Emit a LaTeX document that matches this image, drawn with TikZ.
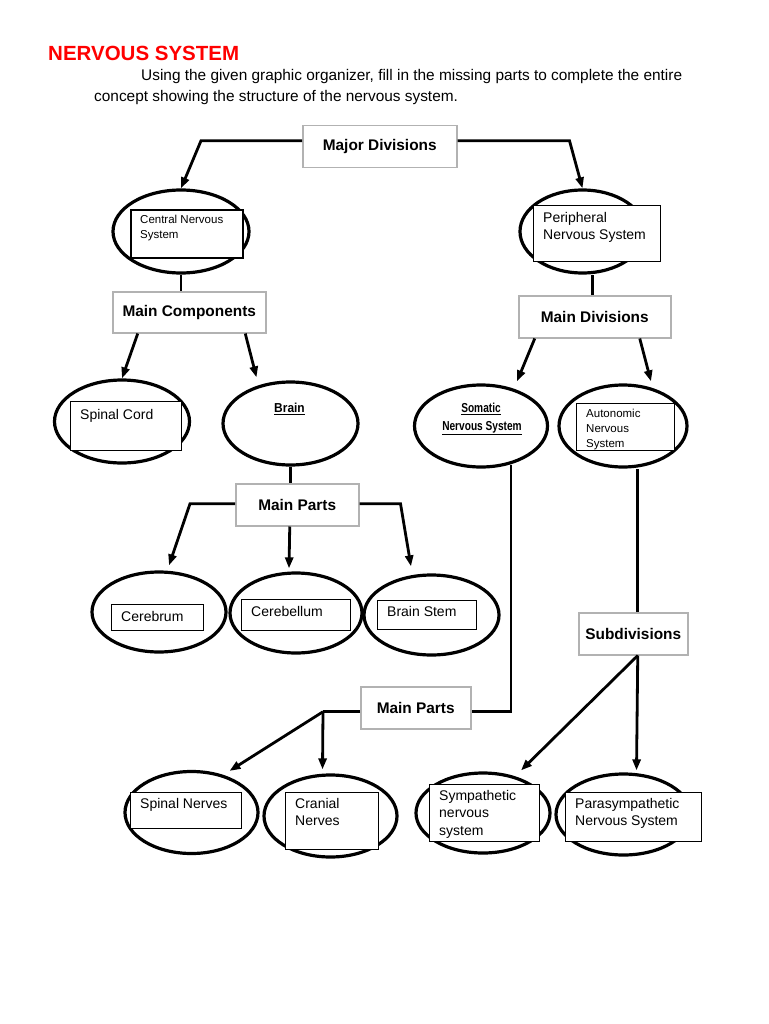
\documentclass[tikz,border=0pt]{standalone}
\usepackage{fontspec}
\setmainfont{Liberation Sans}
\usetikzlibrary{shapes.geometric,arrows.meta}
\begin{document}
\begin{tikzpicture}[x=1pt,y=-1pt,
  ell/.style={ellipse, draw, line width=3.2pt, inner sep=0pt},
  lbl/.style={rectangle, draw=gray!60, line width=1.5pt, fill=white, anchor=north west, inner sep=0pt,
    font=\fontsize{15.4}{18}\selectfont\bfseries},
  ansbox/.style={rectangle, draw, line width=0.9pt, fill=white, anchor=north west, inner sep=0pt},
  anstext/.style={anchor=north west, align=left, inner sep=0pt, font=\fontsize{14}{17.5}\selectfont},
  smalltext/.style={anchor=north west, align=left, inner sep=0pt, font=\fontsize{11.5}{14.8}\selectfont},
  undertext/.style={inner sep=0pt, font=\fontsize{13}{16}\selectfont\bfseries},
  conn/.style={line width=2.8pt, -{Triangle[width=8pt,length=11pt]}},
  link/.style={line width=2.8pt},
]
\useasboundingbox (0,0) rectangle (768,1024);

% title and instructions
\node[anchor=base west, inner sep=0pt, text=red, font=\fontsize{20.5}{24}\selectfont\bfseries] (title) at (48,61) {NERVOUS SYSTEM};
\node[anchor=base west, inner sep=0pt, font=\fontsize{15.4}{18}\selectfont] (intro1) at (141,81) {Using the given graphic organizer, fill in the missing parts to complete the entire};
\node[anchor=base west, inner sep=0pt, font=\fontsize{15.4}{18}\selectfont] (intro2) at (94,102) {concept showing the structure of the nervous system.};

% ellipses
\node[ell, minimum width=136pt, minimum height=83pt] (cns) at (181,231.5) {};
\node[ell, minimum width=125pt, minimum height=83pt] (pns) at (582.5,231.5) {};
\node[ell, minimum width=135pt, minimum height=83pt] (spc) at (122,421.5) {};
\node[ell, minimum width=135pt, minimum height=83pt] (brain) at (290.5,423.5) {};
\node[ell, minimum width=133pt, minimum height=82pt] (som) at (481,426) {};
\node[ell, minimum width=128pt, minimum height=82pt] (auto) at (623,426) {};
\node[ell, minimum width=134pt, minimum height=80pt] (cer) at (159,612) {};
\node[ell, minimum width=132pt, minimum height=80pt] (cbl) at (296,613) {};
\node[ell, minimum width=135pt, minimum height=80pt] (bst) at (431.5,615) {};
\node[ell, minimum width=133pt, minimum height=82pt] (spn) at (191.5,812.5) {};
\node[ell, minimum width=133pt, minimum height=82pt] (crn) at (330.5,816) {};
\node[ell, minimum width=134pt, minimum height=80pt] (sym) at (483,813) {};
\node[ell, minimum width=135pt, minimum height=81pt] (par) at (623.5,814.5) {};

% printed texts inside ellipses
\node[undertext] (braint) at (289.5,409) {\scalebox{0.92}[1]{\underline{Brain}}};
\node[undertext] (somt1) at (481,409) {\scalebox{0.78}[1]{\underline{Somatic}}};
\node[undertext] (somt2) at (482,428) {\scalebox{0.78}[1]{\underline{Nervous System}}};

% label boxes
\node[lbl, minimum width=154pt, minimum height=42pt] (major) at (302,125) {Major Divisions};
\node[lbl, minimum width=153pt, minimum height=41pt] (mc) at (112,291) {Main Components};
\node[lbl, minimum width=152pt, minimum height=42pt] (mdiv) at (518,295) {Main Divisions};
\node[lbl, minimum width=123pt, minimum height=42pt] (mp1) at (235,483) {Main Parts};
\node[lbl, minimum width=109pt, minimum height=42pt] (subd) at (578,612) {Subdivisions};
\node[lbl, minimum width=110pt, minimum height=42pt] (mp2) at (360,686) {Main Parts};

% answer boxes
\node[ansbox, line width=2.2pt, minimum width=112pt, minimum height=48pt] (cnsb) at (130,209) {};
\node[smalltext] (cnst) at (140,215) {Central Nervous\\System};
\node[ansbox, minimum width=127pt, minimum height=56pt] (pnsb) at (533,205) {};
\node[anstext] (pnst) at (543,212) {Peripheral\\Nervous System};
\node[ansbox, minimum width=111pt, minimum height=49pt] (spcb) at (70,401) {};
\node[anstext] (spct) at (80,409) {Spinal Cord};
\node[ansbox, minimum width=98pt, minimum height=47pt] (autob) at (576,403) {};
\node[smalltext] (autot) at (586,409) {Autonomic\\Nervous\\System};
\node[ansbox, minimum width=92pt, minimum height=26pt] (cerb) at (111,604) {};
\node[anstext] (cert) at (121,611) {Cerebrum};
\node[ansbox, minimum width=109pt, minimum height=31pt] (cblb) at (241,599) {};
\node[anstext] (cblt) at (251,606) {Cerebellum};
\node[ansbox, minimum width=99pt, minimum height=29pt] (bstb) at (377,600) {};
\node[anstext] (bstt) at (387,606) {Brain Stem};
\node[ansbox, minimum width=111pt, minimum height=36pt] (spnb) at (130,792) {};
\node[anstext] (spnt) at (140,798) {Spinal Nerves};
\node[ansbox, minimum width=93pt, minimum height=57pt] (crnb) at (285,792) {};
\node[anstext] (crnt) at (295,798) {Cranial\\Nerves};
\node[ansbox, minimum width=110pt, minimum height=57pt] (symb) at (429,784) {};
\node[anstext] (symt) at (439,790) {Sympathetic\\nervous\\system};
\node[ansbox, minimum width=136pt, minimum height=49pt] (parb) at (565,792) {};
\node[anstext] (part) at (575,798) {Parasympathetic\\Nervous System};

% connectors
\draw[conn] ([shift={(0,-6)}]major.west) -- ++(-101,0) -- (cns.north);
\draw[conn] ([shift={(0,-6)}]major.east) -- ++(112,0) -- (pns.north);

\draw[link] (cns.south) -- (cns.south |- mc.north);
\draw[conn] ([shift={(-51.5,0)}]mc.south) -- (spc.north);
\draw[conn] ([shift={(56,0)}]mc.south) -- ([shift={(-34,-3)}]brain.north);

\draw[link] (brain.south) -- (brain.south |- mp1.north);
\draw[conn] ([shift={(0,-1)}]mp1.west) -- ++(-45,0) -- ([shift={(10,-5)}]cer.north);
\draw[conn] ([shift={(-7.5,0)}]mp1.south) -- ([shift={(-7,-3)}]cbl.north);
\draw[conn] ([shift={(0,-1)}]mp1.east) -- ++(41,0) -- ([shift={(-20.5,-7)}]bst.north);

\draw[link] ([shift={(-2,0)}]mdiv.north) -- ([shift={(-2,0)}]mdiv.north |- pns.south);
\draw[conn] ([shift={(-60,0)}]mdiv.south) -- ([shift={(36,-2)}]som.north);
\draw[conn] ([shift={(45,0)}]mdiv.south) -- ([shift={(28,-2)}]auto.north);

\draw[link] ([shift={(30,-4)}]som.south) |- ([shift={(0,4)}]mp2.east);
\coordinate (mpj) at ([shift={(-37,4)}]mp2.west);
\draw[link] ([shift={(0,4)}]mp2.west) -- (mpj);
\draw[conn] (mpj) -- ([shift={(38,1)}]spn.north);
\draw[conn] (mpj) -- ([shift={(-8,-4)}]crn.north);

\draw[link] ([shift={(4.5,0)}]subd.north) -- ([shift={(4.5,0)}]subd.north |- auto.south);
\draw[conn] ([shift={(4.5,0)}]subd.south) -- ([shift={(38,-1)}]sym.north);
\draw[conn] ([shift={(4.5,0)}]subd.south) -- ([shift={(13,-2)}]par.north);
\end{tikzpicture}
\end{document}
